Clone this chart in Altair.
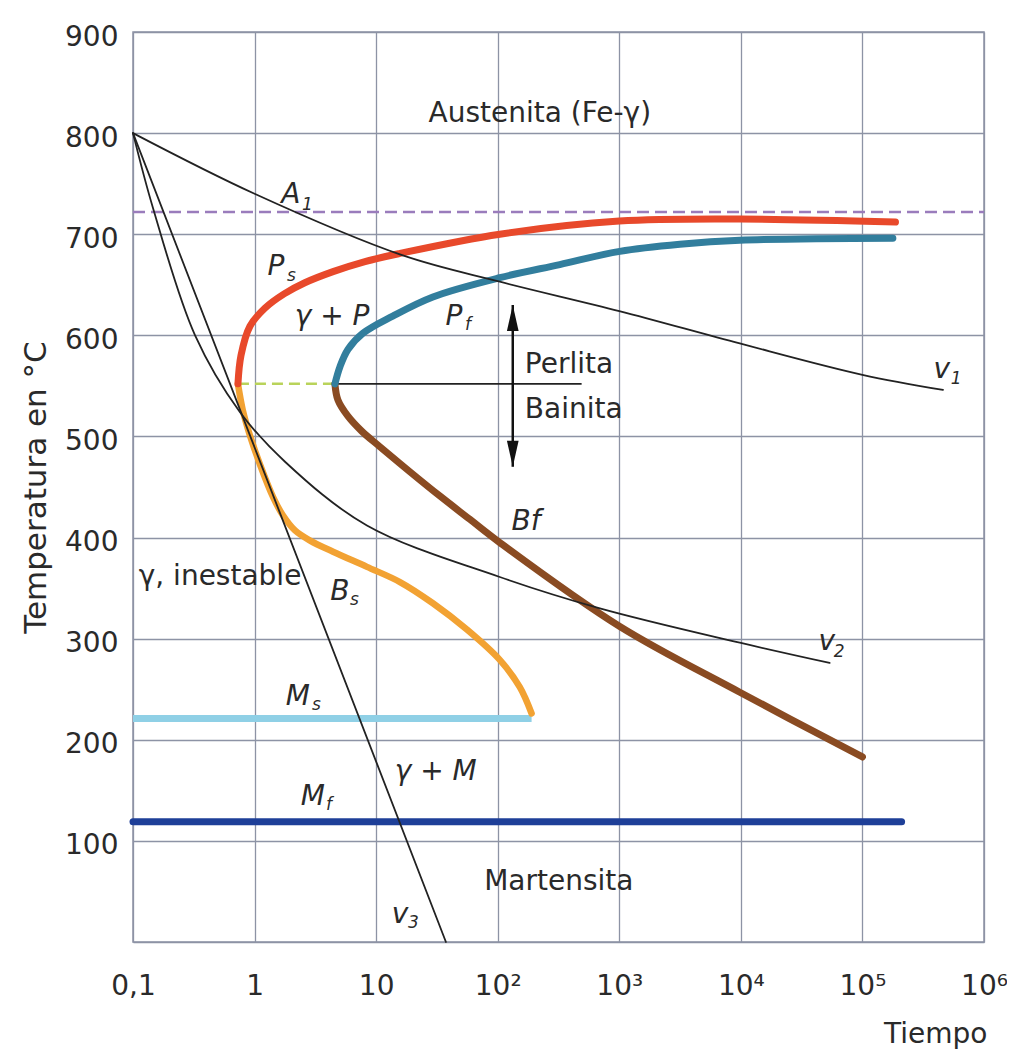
import altair as alt
import pandas as pd

# ---------------- data ----------------
# thin black cooling curves
v1_t = [0.1, 1.0, 16.6, 104, 1000, 9800, 1.0e5, 4.6e5]
v1_T = [800, 740, 679, 653, 624, 592, 561, 546]
v2_t = [0.1, 0.146, 0.324, 0.759, 1.78, 8.4, 104, 692, 9800, 53700]
v2_T = [800, 726, 600, 524, 475, 412, 361, 330, 296, 276]
v3_t = [0.1, 37.5]
v3_T = [800, 0]

# transformation curves
ps_t = [0.73, 0.773, 0.916, 1.22, 1.75, 2.59, 4.42, 8.09, 15.7, 104, 1000, 9800, 1.87e5]
ps_T = [552, 580, 609, 627, 641, 652, 663, 673, 681, 700, 713, 715, 712]
pf_t = [4.58, 5.04, 5.86, 7.78, 13.7, 29.3, 104, 324, 1010, 3150, 9800, 1.78e5]
pf_T = [552, 569, 586, 602, 619, 638, 657, 670, 683, 690, 694, 696]
bs_t = [0.73, 0.80, 0.916, 1.11, 1.42, 1.71, 2.15, 2.86, 4.42, 8.4, 15.7, 29.3, 55.8, 104, 152, 190]
bs_T = [552, 526, 501, 472, 440, 422, 407, 397, 386, 371, 356, 335, 309, 279, 252, 226]
bf_t = [4.58, 4.85, 5.86, 7.64, 10.7, 19.0, 33.5, 59.0, 104, 1010, 9800, 1.0e5]
bf_T = [552, 536, 520, 505, 490, 465, 441, 418, 395, 312, 247, 183]

# horizontal lines
ms_t = [0.1, 190]
ms_T = [221, 221]
mf_t = [0.1, 2.1e5]
mf_T = [119, 119]
a1_t = [0.1, 1.0e6]
a1_T = [722, 722]
nose_t = [0.73, 4.58]
nose_T = [552, 552]
sep_t = [4.58, 490]
sep_T = [552, 552]

# double arrow Perlita / Bainita
arrow_t = [133, 133]
arrow_T = [470, 630]

# labels
plain_text = ["Austenita (Fe-γ)", "γ, inestable", "Martensita"]
plain_t = [222, 0.52, 318]
plain_T = [811, 353, 51.4]

left_text = ["Perlita", "Bainita"]
left_t = [167, 167]
left_T = [563, 518]

ital_text = ["A", "P", "γ + P", "P", "v", "Bf", "B", "v", "M", "γ + M", "M", "v"]
ital_t = [1.99, 1.5, 4.34, 43.7, 4.5e5, 171, 5.04, 5.1e4, 2.27, 30.9, 3.02, 15.7]
ital_T = [731, 660, 610, 610, 558, 407, 338, 289, 234, 160, 135.5, 18.8]

sub_text = ["1", "s", "f", "1", "s", "2", "s", "f", "3"]
sub_t = [2.45, 1.85, 53.8, 5.33e5, 6.1, 5.8e4, 2.97, 3.86, 18.3]
sub_T = [724, 654, 605, 552, 333, 282, 229.5, 130.5, 13.8]

x_ticks = [0.1, 1, 10, 100, 1e3, 1e4, 1e5, 1e6]
y_ticks = list(range(0, 901, 100))

# ---------------- chart ----------------
FONT = "DejaVu Sans"
GRID = "#8d93a5"
TXT = "#2a2a2a"


def frame(ts, Ts, text=None):
    d = {"t": ts, "T": Ts, "i": list(range(len(ts)))}
    if text is not None:
        d["label"] = text
    return pd.DataFrame(d)


x_label_expr = (
    "datum.value < 0.5 ? '0,1' : datum.value < 5 ? '1' : datum.value < 50 ? '10' : "
    "datum.value < 500 ? '10²' : datum.value < 5000 ? '10³' : datum.value < 50000 ? '10⁴' : "
    "datum.value < 500000 ? '10⁵' : '10⁶'"
)

X = alt.X(
    "t:Q",
    scale=alt.Scale(type="log", domain=[0.1, 1e6], nice=False),
    axis=alt.Axis(
        values=x_ticks,
        labelExpr=x_label_expr,
        title="Tiempo",
        titleX=854,
        titleY=100,
        titleAlign="right",
        titleBaseline="alphabetic",
        titleAngle=0,
        labelPadding=30,
        labelFlush=False,
        labelOverlap=False,
        labelBound=False,
    ),
)
Y = alt.Y(
    "T:Q",
    scale=alt.Scale(domain=[0, 900], nice=False),
    axis=alt.Axis(
        values=y_ticks,
        labelExpr="datum.value == 0 ? '' : datum.label",
        title="Temperatura en °C",
        titleX=-97,
        titleY=455,
        titleAlign="center",
        titleBaseline="middle",
        titleFontSize=31,
        labelPadding=15,
        labelOffset=5,
        labelFlush=False,
        labelOverlap=False,
    ),
)


def line(ts, Ts, color, width, dash=None, interp="catmull-rom", cap="round"):
    kw = dict(color=color, strokeWidth=width, strokeCap=cap, interpolate=interp)
    if dash:
        kw["strokeDash"] = dash
    return alt.Chart(frame(ts, Ts)).mark_line(**kw).encode(x=X, y=Y, order="i:Q")


layers = [
    line(a1_t, a1_T, "#9a7cbc", 2.5, dash=[12, 6], cap="butt"),
    line(nose_t, nose_T, "#b9d35a", 2.5, dash=[11, 6], cap="butt"),
    line(sep_t, sep_T, "#222222", 1.8, cap="butt"),
    line(ms_t, ms_T, "#8fd0e6", 7, cap="butt"),
    line(mf_t, mf_T, "#1e3f98", 7),
    line(bs_t, bs_T, "#f2a233", 6.5),
    line(bf_t, bf_T, "#8a4b22", 7),
    line(ps_t, ps_T, "#e8492b", 7),
    line(pf_t, pf_T, "#327e9d", 7),
    line(v1_t, v1_T, "#222222", 1.8),
    line(v2_t, v2_T, "#222222", 1.8),
    line(v3_t, v3_T, "#222222", 1.8),
    line(arrow_t, arrow_T, "#111111", 2.5, cap="butt"),
]

arrow_up = alt.Chart(frame([arrow_t[1]], [arrow_T[1]])).mark_point(
    shape="M0,0L0.45,2L-0.45,2Z", size=676, filled=True, color="#111111", opacity=1, strokeWidth=0
).encode(x=X, y=Y)
arrow_dn = alt.Chart(frame([arrow_t[0]], [arrow_T[0]])).mark_point(
    shape="M0,0L0.45,-2L-0.45,-2Z", size=676, filled=True, color="#111111", opacity=1, strokeWidth=0
).encode(x=X, y=Y)


def texts(ts, Ts, labels, size, style="normal", align="center"):
    return alt.Chart(frame(ts, Ts, labels)).mark_text(
        font=FONT, fontSize=size, fontStyle=style, align=align, baseline="alphabetic", color=TXT
    ).encode(x=X, y=Y, text="label:N")


layers += [
    arrow_up,
    arrow_dn,
    texts(plain_t, plain_T, plain_text, 28),
    texts(left_t, left_T, left_text, 28, align="left"),
    texts(ital_t, ital_T, ital_text, 28, style="italic"),
    texts(sub_t, sub_T, sub_text, 17, style="italic", align="left"),
]

chart = (
    alt.layer(*layers)
    .properties(
        width=851,
        height=910,
        autosize=alt.AutoSizeParams(type="none"),
        padding={"left": 125, "top": 24, "right": 23, "bottom": 110},
        background="white",
    )
    .configure_view(stroke=GRID, strokeWidth=1.5)
    .configure_axis(
        grid=True,
        gridColor=GRID,
        gridWidth=1.3,
        gridOpacity=1,
        domain=False,
        ticks=False,
        labelFont=FONT,
        labelFontSize=28,
        labelColor=TXT,
        titleFont=FONT,
        titleFontSize=28,
        titleFontWeight="normal",
        titleColor=TXT,
    )
)

chart.save("out.html", embed_options={"renderer": "svg", "actions": False})
